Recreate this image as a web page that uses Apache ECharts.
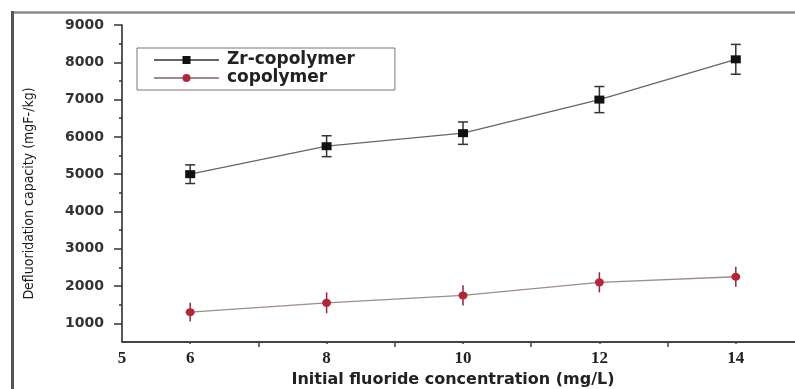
<!DOCTYPE html>
<html>
<head>
<meta charset="utf-8">
<script src="https://cdn.jsdelivr.net/npm/echarts@6/dist/echarts.min.js"></script>
<style>
  html, body { margin: 0; padding: 0; background: #ffffff; }
  #chart { width: 795px; height: 389px; }
</style>
</head>
<body>
<div id="chart"></div>
<script>
// Initial fluoride concentration (mg/L)
const concentrations = [6, 8, 10, 12, 14];

// Defluoridation capacity (mg F-/kg) with standard deviations
const zrCapacity = [5000, 5750, 6100, 7000, 8080];
const zrError = [250, 280, 300, 350, 400];
const copolyCapacity = [1300, 1550, 1750, 2100, 2250];
const copolyError = [250, 280, 270, 270, 270];

// Axis tick values
const yMajorTicks = [1000, 2000, 3000, 4000, 5000, 6000, 7000, 8000, 9000];
const yMinorTicks = [1500, 2500, 3500, 4500, 5500, 6500, 7500, 8500];
const xLabelTicks = [5, 6, 8, 10, 12, 14];
const xOddTicks = [7, 9, 11, 13];
const xEvenTicks = [6, 8, 10, 12, 14];

const seriesNames = ['Zr-copolymer', 'copolymer'];

function pairs(xs, ys) { return xs.map((x, i) => [x, ys[i]]); }
function triples(xs, ys, es) { return xs.map((x, i) => [x, ys[i], es[i]]); }

// Vertical error bar with end caps
function errorBarRenderer(color, capHalf, width) {
  return function (params, api) {
    const x = api.value(0), y = api.value(1), e = api.value(2);
    const lo = api.coord([x, y - e]);
    const hi = api.coord([x, y + e]);
    const style = { stroke: color, lineWidth: width };
    const children = [
      { type: 'line', shape: { x1: lo[0], y1: lo[1], x2: hi[0], y2: hi[1] }, style: style }
    ];
    if (capHalf > 0) {
      children.push({ type: 'line', shape: { x1: lo[0] - capHalf, y1: lo[1], x2: lo[0] + capHalf, y2: lo[1] }, style: style });
      children.push({ type: 'line', shape: { x1: hi[0] - capHalf, y1: hi[1], x2: hi[0] + capHalf, y2: hi[1] }, style: style });
    }
    return { type: 'group', children: children };
  };
}

const chart = echarts.init(document.getElementById('chart'), null, { renderer: 'canvas' });

const labelFont = 'DejaVu Sans, Verdana, sans-serif';

const baseX = {
  type: 'value', min: 5, max: 15, interval: 1,
  splitLine: { show: false }
};
const baseY = {
  type: 'value', min: 500, max: 9000,
  splitLine: { show: false }
};

chart.setOption({
  backgroundColor: '#ffffff',
  animation: false,
  grid: { left: 122, top: 25, width: 682, height: 317, outerBoundsMode: 'none', containLabel: false },
  graphic: [
    { type: 'line', shape: { x1: 12, y1: 12.5, x2: 795, y2: 12.5 }, style: { stroke: '#8a8a8a', lineWidth: 2.5 }, silent: true },
    { type: 'line', shape: { x1: 12.5, y1: 11, x2: 12.5, y2: 389 }, style: { stroke: '#555555', lineWidth: 3 }, silent: true }
  ],
  legend: {
    data: seriesNames,
    orient: 'vertical',
    left: 137, top: 48,
    padding: [3, 40, 3, 16],
    itemGap: 0,
    itemWidth: 65,
    itemHeight: 10,
    borderColor: '#777777',
    borderWidth: 1,
    borderRadius: 0,
    textStyle: { fontFamily: labelFont, fontWeight: 'bold', fontSize: 17, color: '#222222', lineHeight: 18, padding: [0, 0, 0, 3] }
  },
  xAxis: [
    Object.assign({}, baseX, {
      name: 'Initial fluoride concentration (mg/L)',
      nameLocation: 'middle',
      nameGap: 28,
      nameTextStyle: { fontFamily: labelFont, fontWeight: 'bold', fontSize: 16, color: '#222222', padding: [0, 20, 0, 0] },
      axisLine: { lineStyle: { color: '#444444', width: 2 } },
      axisTick: { customValues: xOddTicks, length: 5, lineStyle: { color: '#444444', width: 1.5 } },
      axisLabel: { customValues: xLabelTicks, margin: 8, fontFamily: 'Liberation Serif, Times New Roman, serif', fontWeight: 'bold', fontSize: 17, color: '#222222' }
    }),
    Object.assign({}, baseX, {
      position: 'bottom',
      axisLine: { show: false },
      axisTick: { customValues: xEvenTicks, length: 2, lineStyle: { color: '#444444', width: 1.5 } },
      axisLabel: { show: false }
    })
  ],
  yAxis: [
    Object.assign({}, baseY, {
      name: 'Defluoridation capacity (mgF-/kg)',
      nameLocation: 'middle',
      nameGap: 86,
      nameRotate: 90,
      nameTextStyle: { fontFamily: 'Liberation Sans Narrow, DejaVu Sans Condensed, Arial Narrow, sans-serif', fontSize: 14, color: '#1a1a1a', padding: [0, 20, 0, 0] },
      axisLine: { lineStyle: { color: '#222222', width: 1.5 } },
      axisTick: { customValues: yMajorTicks, length: 8, lineStyle: { color: '#333333', width: 1.5 } },
      axisLabel: {
        customValues: yMajorTicks, margin: 18,
        formatter: function (v) { return String(v); },
        fontFamily: labelFont, fontWeight: 'bold', fontSize: 14, color: '#333333'
      }
    }),
    Object.assign({}, baseY, {
      position: 'left',
      axisLine: { show: false },
      axisTick: { customValues: yMinorTicks, length: 3, lineStyle: { color: '#333333', width: 1.5 } },
      axisLabel: { show: false }
    })
  ],
  series: [
    {
      name: 'Zr-copolymer error',
      type: 'custom',
      renderItem: errorBarRenderer('#333333', 5, 1.5),
      data: triples(concentrations, zrCapacity, zrError),
      z: 1
    },
    {
      name: 'copolymer error',
      type: 'custom',
      renderItem: errorBarRenderer('#8a2a3a', 0, 1.5),
      data: triples(concentrations, copolyCapacity, copolyError),
      z: 1
    },
    {
      name: seriesNames[0],
      type: 'line',
      data: pairs(concentrations, zrCapacity),
      symbol: 'rect',
      symbolSize: [10, 8],
      itemStyle: { color: '#111111' },
      lineStyle: { color: '#666666', width: 1.3 },
      z: 3
    },
    {
      name: seriesNames[1],
      type: 'line',
      data: pairs(concentrations, copolyCapacity),
      symbol: 'circle',
      symbolSize: [9, 8],
      itemStyle: { color: '#b3263a' },
      lineStyle: { color: '#a08a8a', width: 1.3 },
      z: 3
    }
  ]
});
</script>
</body>
</html>
